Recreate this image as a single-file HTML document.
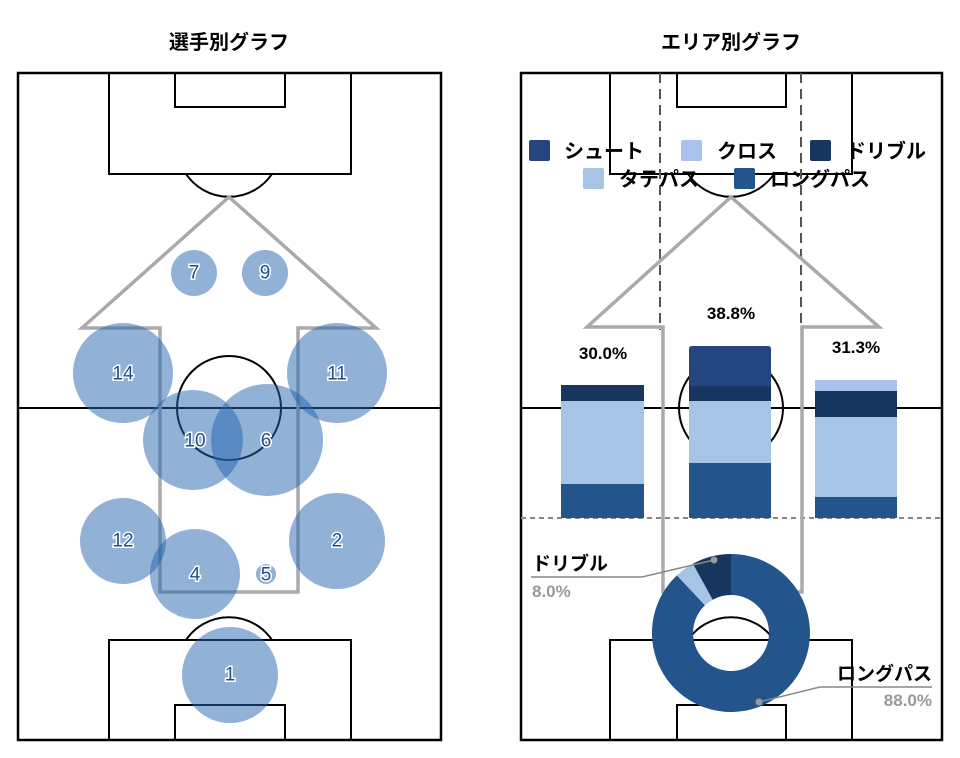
<!DOCTYPE html>
<html><head><meta charset="utf-8"><style>
html,body{margin:0;padding:0;background:#fff;}
svg{display:block;}
text{font-family:"Liberation Sans","Noto Sans CJK JP",sans-serif;}
.t{font-weight:bold;font-size:20px;fill:#000;}
.n{font-size:19px;fill:#1f4e8c;stroke:#fff;stroke-width:3;paint-order:stroke;text-anchor:middle;dominant-baseline:central;}
.c{fill:#2364af;fill-opacity:.5;}
.lg{font-weight:bold;font-size:20px;fill:#000;}
.pc{font-weight:bold;font-size:17px;fill:#000;text-anchor:middle;}
</style></head><body>
<svg width="960" height="758" viewBox="0 0 960 758" xmlns="http://www.w3.org/2000/svg">
<text class="t" x="229" y="49" text-anchor="middle">選手別グラフ</text>
<text class="t" x="731" y="49" text-anchor="middle">エリア別グラフ</text>

<!-- LEFT PITCH -->
<g fill="none" stroke="#000" stroke-width="2">
<rect x="18" y="73" width="423" height="667" stroke-width="2.5"/>
<line x1="18" y1="408" x2="441" y2="408"/>
<circle cx="229" cy="408" r="52"/>
<rect x="109" y="73" width="242" height="101"/>
<rect x="175" y="73" width="110" height="34"/>
<path d="M186,174 A52,52 0 0 0 272,174"/>
<rect x="109" y="640" width="242" height="100"/>
<rect x="175" y="705" width="110" height="35"/>
<path d="M186,640 A52,52 0 0 1 272,640"/>
</g>
<path d="M229,197 L376,328 L298,328 L298,592 L160,592 L160,328 L82,328 Z" fill="none" stroke="#aaa" stroke-width="3.5"/>
<g>
<circle class="c" cx="194" cy="273" r="23"/>
<circle class="c" cx="265" cy="273" r="23"/>
<circle class="c" cx="123" cy="373" r="50"/>
<circle class="c" cx="337" cy="373" r="50"/>
<circle class="c" cx="193" cy="440" r="50"/>
<circle class="c" cx="267" cy="440" r="56"/>
<circle class="c" cx="123" cy="541" r="43"/>
<circle class="c" cx="337" cy="541" r="48"/>
<circle class="c" cx="195" cy="574" r="45"/>
<circle class="c" cx="266" cy="574" r="10"/>
<circle class="c" cx="230" cy="675" r="48"/>
</g>
<text class="n" x="194" y="273">7</text>
<text class="n" x="265" y="273">9</text>
<text class="n" x="123" y="374">14</text>
<text class="n" x="337" y="374">11</text>
<text class="n" x="195" y="441">10</text>
<text class="n" x="266" y="441">6</text>
<text class="n" x="123" y="541">12</text>
<text class="n" x="337" y="541">2</text>
<text class="n" x="195" y="575">4</text>
<text class="n" x="266" y="575">5</text>
<text class="n" x="230" y="675">1</text>

<!-- RIGHT PITCH -->
<g fill="none" stroke="#000" stroke-width="2">
<rect x="521" y="73" width="421" height="667" stroke-width="2.5"/>
<line x1="521" y1="408" x2="942" y2="408"/>
<circle cx="731" cy="408" r="52"/>
<rect x="610" y="73" width="242" height="101"/>
<rect x="677" y="73" width="109" height="34"/>
<path d="M688,174 A52,52 0 0 0 774,174"/>
<rect x="610" y="640" width="242" height="100"/>
<rect x="677" y="705" width="109" height="35"/>
<path d="M688,640 A52,52 0 0 1 774,640"/>
</g>
<g stroke="#555" stroke-width="2" stroke-dasharray="10,6" fill="none">
<line x1="660" y1="73" x2="660" y2="330"/>
<line x1="801" y1="73" x2="801" y2="330"/>
</g>
<line x1="521" y1="518" x2="942" y2="518" stroke="#888" stroke-width="2" stroke-dasharray="5,4"/>
<path d="M731,197 L879,327 L802,327 L802,592 L663,592 L663,327 L587,327 Z" fill="none" stroke="#aaa" stroke-width="3.5"/>

<!-- legend -->
<rect x="529" y="140" width="21" height="21" rx="2" fill="#254581"/>
<text class="lg" x="564" y="158">シュート</text>
<rect x="681" y="140" width="21" height="21" rx="2" fill="#a9c1ec"/>
<text class="lg" x="717" y="158">クロス</text>
<rect x="810" y="140" width="21" height="21" rx="2" fill="#17365f"/>
<text class="lg" x="846" y="158">ドリブル</text>
<rect x="583" y="168" width="21" height="21" rx="2" fill="#a6c4e4"/>
<text class="lg" x="619" y="186">タテパス</text>
<rect x="734" y="168" width="21" height="21" rx="2" fill="#23548c"/>
<text class="lg" x="770" y="186">ロングパス</text>

<!-- bars -->
<rect x="561" y="385" width="83" height="16" fill="#17365f"/>
<rect x="561" y="401" width="83" height="83" fill="#a6c4e4"/>
<rect x="561" y="484" width="83" height="34" fill="#23548c"/>
<path d="M689,349 Q689,346 692,346 L768,346 Q771,346 771,349 L771,386 L689,386 Z" fill="#254581"/>
<rect x="689" y="386" width="82" height="15" fill="#17365f"/>
<rect x="689" y="401" width="82" height="62" fill="#a6c4e4"/>
<rect x="689" y="463" width="82" height="55" fill="#23548c"/>
<rect x="815" y="380" width="82" height="11" fill="#a9c1ec"/>
<rect x="815" y="391" width="82" height="26" fill="#17365f"/>
<rect x="815" y="417" width="82" height="80" fill="#a6c4e4"/>
<rect x="815" y="497" width="82" height="21" fill="#23548c"/>
<text class="pc" x="603" y="359">30.0%</text>
<text class="pc" x="731" y="319">38.8%</text>
<text class="pc" x="856" y="353">31.3%</text>

<!-- donut -->
<path d="M731,554 A79,79 0 1 1 676.9,575.4 L705.0,605.3 A38,38 0 1 0 731,595 Z" fill="#23548c"/>
<path d="M676.9,575.4 A79,79 0 0 1 692.9,563.8 L712.7,599.7 A38,38 0 0 0 705.0,605.3 Z" fill="#a6c4e4"/>
<path d="M692.9,563.8 A79,79 0 0 1 731,554 L731,595 A38,38 0 0 0 712.7,599.7 Z" fill="#17365f"/>
<polyline points="531,577 642,577 714,560" fill="none" stroke="#888" stroke-width="1.5"/>
<circle cx="714" cy="560" r="3.5" fill="#999"/>
<text x="532" y="570" font-weight="bold" font-size="19" fill="#000">ドリブル</text>
<text x="532" y="597" font-weight="bold" font-size="17" fill="#999">8.0%</text>
<polyline points="932,687 820,687 759,702" fill="none" stroke="#888" stroke-width="1.5"/>
<circle cx="759" cy="702" r="3.5" fill="#999"/>
<text x="932" y="680" font-weight="bold" font-size="19" fill="#000" text-anchor="end">ロングパス</text>
<text x="932" y="706" font-weight="bold" font-size="17" fill="#999" text-anchor="end">88.0%</text>
</svg>
</body></html>
